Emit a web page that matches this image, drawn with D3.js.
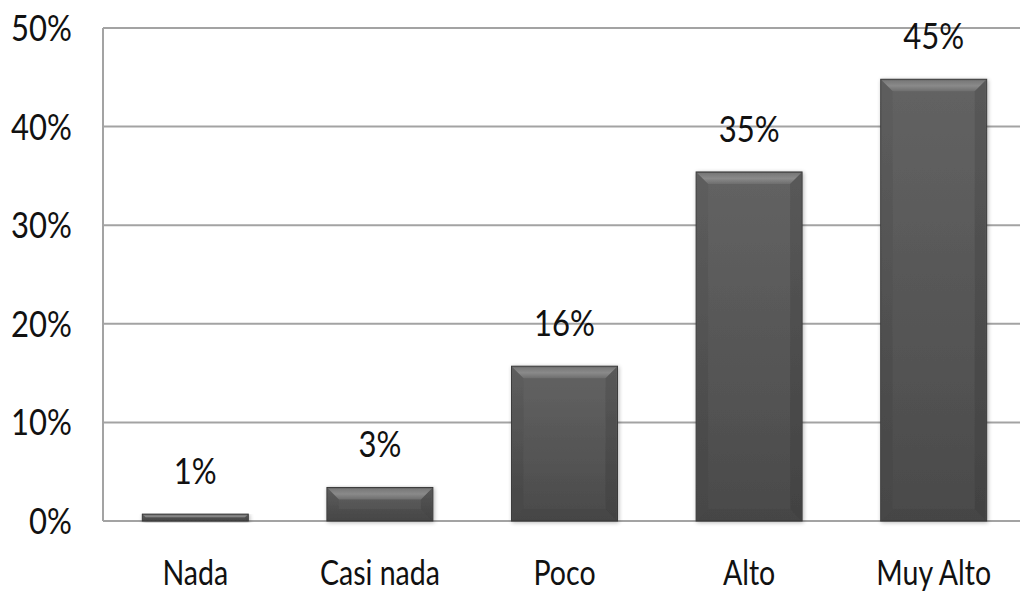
<!DOCTYPE html>
<html>
<head>
<meta charset="utf-8">
<script src="https://cdn.jsdelivr.net/npm/d3@7"></script>
<style>
  body { margin: 0; background: #fff; }
  text { font-family: Lato, "Liberation Sans", sans-serif; fill: #111; }
</style>
</head>
<body>
<svg id="chart" width="1020" height="598"></svg>
<script>
// data
var categories = ["Nada", "Casi nada", "Poco", "Alto", "Muy Alto"];
var values = [0.007, 0.034, 0.157, 0.354, 0.448];
var yTicks = [0, 0.1, 0.2, 0.3, 0.4, 0.5];

var width = 1020, height = 598;
var margin = {top: 28, right: -6, bottom: 77, left: 103};
var squeeze = 0.84;   // the original font is a narrow one

var svg = d3.select("#chart");

var x = d3.scaleBand()
    .domain(categories)
    .range([margin.left, width - margin.right])
    .paddingInner(0.426)
    .paddingOuter(0.213);

var y = d3.scaleLinear()
    .domain([0, 0.5])
    .range([height - margin.bottom, margin.top]);

var pct = d3.format(".0%");

function place(px, py){
    return "translate(" + px + "," + py + ") scale(" + squeeze + ",1)";
}

// gradients for the bevelled bars
var defs = svg.append("defs");
var gTop = defs.append("linearGradient").attr("id", "bevTop")
    .attr("x1", 0).attr("y1", 0).attr("x2", 0).attr("y2", 1);
gTop.append("stop").attr("offset", "0%").attr("stop-color", "#777");
gTop.append("stop").attr("offset", "50%").attr("stop-color", "#8a8a8a");
gTop.append("stop").attr("offset", "100%").attr("stop-color", "#6e6e6e");
var gFace = defs.append("linearGradient").attr("id", "face")
    .attr("x1", 0).attr("y1", 0).attr("x2", 0).attr("y2", 1);
gFace.append("stop").attr("offset", "0%").attr("stop-color", "#636363");
gFace.append("stop").attr("offset", "100%").attr("stop-color", "#4a4a4a");
var shadow = defs.append("filter").attr("id", "shadow")
    .attr("x", "-10%").attr("y", "-10%").attr("width", "130%").attr("height", "130%");
shadow.append("feGaussianBlur").attr("in", "SourceAlpha").attr("stdDeviation", 2);
shadow.append("feOffset").attr("dx", 1).attr("dy", 1).attr("result", "b");
shadow.append("feComponentTransfer").append("feFuncA").attr("type", "linear").attr("slope", 0.3);
var fm = shadow.append("feMerge");
fm.append("feMergeNode");
fm.append("feMergeNode").attr("in", "SourceGraphic");

// gridlines
svg.append("g")
    .selectAll("line")
    .data(yTicks)
    .enter()
    .append("line")
    .attr("x1", margin.left)
    .attr("x2", width)
    .attr("y1", function(d){ return y(d); })
    .attr("y2", function(d){ return y(d); })
    .style("stroke", "#a3a3a3")
    .style("stroke-width", 2);

svg.append("line")
    .attr("x1", margin.left).attr("x2", margin.left)
    .attr("y1", y(0.5)).attr("y2", y(0))
    .style("stroke", "#a3a3a3")
    .style("stroke-width", 2);

// y tick labels
svg.append("g")
    .selectAll("text")
    .data(yTicks)
    .enter()
    .append("text")
    .attr("transform", function(d){ return place(72, y(d) + 13); })
    .attr("text-anchor", "end")
    .style("font-size", "37px")
    .text(function(d){ return pct(d); });

// bars
var bars = svg.append("g")
    .selectAll("g")
    .data(values)
    .enter()
    .append("g")
    .attr("filter", "url(#shadow)");

bars.each(function(d, i){
    var g = d3.select(this);
    var x0 = x(categories[i]), w = x.bandwidth();
    var y0 = y(d), y1 = y(0), h = y1 - y0;
    var b = Math.min(12, h / 2);
    g.append("rect")
        .attr("x", x0).attr("y", y0)
        .attr("width", w).attr("height", h)
        .style("fill", "url(#face)")
        .style("stroke", "#3a3a3a")
        .style("stroke-width", 1);
    // top bevel
    g.append("polygon")
        .attr("points", [[x0 + 1, y0 + 1], [x0 + w - 1, y0 + 1], [x0 + w - b, y0 + b], [x0 + b, y0 + b]].join(" "))
        .style("fill", "url(#bevTop)");
    // side bevels, only slightly darker than the face
    g.append("polygon")
        .attr("points", [[x0 + 1, y0 + 1], [x0 + b, y0 + b], [x0 + b, y1 - b], [x0 + 1, y1]].join(" "))
        .style("fill", "#000").style("fill-opacity", 0.05);
    g.append("polygon")
        .attr("points", [[x0 + w - 1, y0 + 1], [x0 + w - b, y0 + b], [x0 + w - b, y1 - b], [x0 + w - 1, y1]].join(" "))
        .style("fill", "#000").style("fill-opacity", 0.1);
    g.append("polygon")
        .attr("points", [[x0 + 1, y1], [x0 + b, y1 - b], [x0 + w - b, y1 - b], [x0 + w - 1, y1]].join(" "))
        .style("fill", "#000").style("fill-opacity", 0.06);
});

// value labels
svg.append("g")
    .selectAll("text")
    .data(values)
    .enter()
    .append("text")
    .attr("transform", function(d, i){ return place(x(categories[i]) + x.bandwidth() / 2, y(d) - 30); })
    .attr("text-anchor", "middle")
    .style("font-size", "37px")
    .text(function(d){ return pct(d); });

// category labels
svg.append("g")
    .selectAll("text")
    .data(categories)
    .enter()
    .append("text")
    .attr("transform", function(d){ return place(x(d) + x.bandwidth() / 2, 585); })
    .attr("text-anchor", "middle")
    .style("font-size", "34px")
    .text(function(d){ return d; });
</script>
</body>
</html>
